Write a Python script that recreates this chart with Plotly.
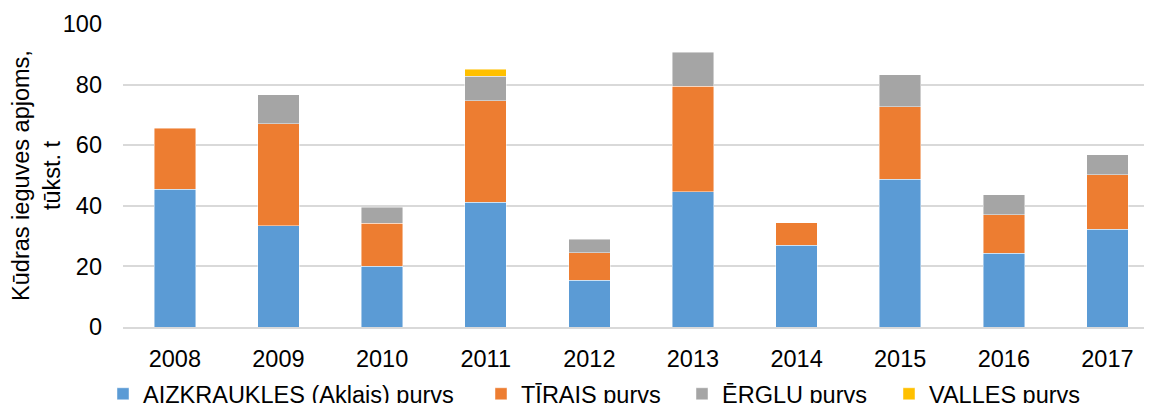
import plotly.graph_objects as go

years = ["2008", "2009", "2010", "2011", "2012", "2013", "2014", "2015", "2016", "2017"]
aizkraukles = [45.4, 33.4, 20.1, 41.1, 15.5, 44.7, 27.0, 48.7, 24.3, 32.2]
tirais = [20.2, 33.6, 14.1, 33.6, 9.0, 34.7, 7.4, 24.0, 12.7, 18.1]
erglu = [None, 9.6, 5.4, 8.0, 4.5, 11.2, None, 10.6, 6.7, 6.6]
valles = [None, None, None, 2.3, None, None, None, None, None, None]

series_names = ["AIZKRAUKLES (Aklais) purvs", "TĪRAIS purvs", "ĒRGLU purvs", "VALLES purvs"]
series_values = [aizkraukles, tirais, erglu, valles]
series_colors = ["#5B9BD5", "#ED7D31", "#A5A5A5", "#FFC000"]

# The page body has an 8px margin, so the figure is drawn 8px smaller
# and all positions are given in figure pixels.
W, H = 1144, 395
legend_left_px = [95, 473, 674, 881]
legend_mid_px = 386

font_family = "Liberation Sans, Arial, sans-serif"
fsize = 23.5

fig = go.Figure()
legend_ids = ["legend", "legend2", "legend3", "legend4"]
for name, vals, col, lid in zip(series_names, series_values, series_colors, legend_ids):
    fig.add_trace(go.Bar(
        x=years, y=vals, name=name, legend=lid,
        marker=dict(color=col, line=dict(color="rgba(255,255,255,0.6)", width=0.75)),
        width=0.4,
    ))

legend_common = dict(
    orientation="h", xref="container", yref="container",
    xanchor="left", yanchor="middle", y=(H - legend_mid_px) / H,
    font=dict(size=fsize, color="#000000", family=font_family),
    bgcolor="rgba(0,0,0,0)", borderwidth=0,
)
legend_layout = {}
for lid, lx in zip(legend_ids, legend_left_px):
    legend_layout[lid] = dict(legend_common, x=lx / W)

fig.update_layout(
    width=W, height=H,
    barmode="stack",
    paper_bgcolor="white", plot_bgcolor="white",
    margin=dict(l=115, r=0, t=16, b=76),
    font=dict(family=font_family, size=fsize, color="#000000"),
    showlegend=True,
    xaxis=dict(
        type="category", range=[-0.5, 9.43], automargin=False,
        showgrid=False, showline=True, linecolor="#d9d9d9", linewidth=1.5,
        ticks="", ticklabelstandoff=10,
        tickfont=dict(size=fsize, color="#000000"),
        fixedrange=True,
    ),
    yaxis=dict(
        range=[0, 100], tickvals=[0, 20, 40, 60, 80, 100], automargin=False,
        showgrid=True, gridcolor="#d9d9d9", gridwidth=1.5,
        zeroline=False, showline=False, ticks="",
        ticklabelstandoff=20,
        tickfont=dict(size=fsize, color="#000000"),
        title=dict(text="Kūdras ieguves apjoms,<br>tūkst. t", standoff=0,
                   font=dict(size=fsize, color="#000000")),
        fixedrange=True,
    ),
    **legend_layout,
)

fig.write_html("out.html")
